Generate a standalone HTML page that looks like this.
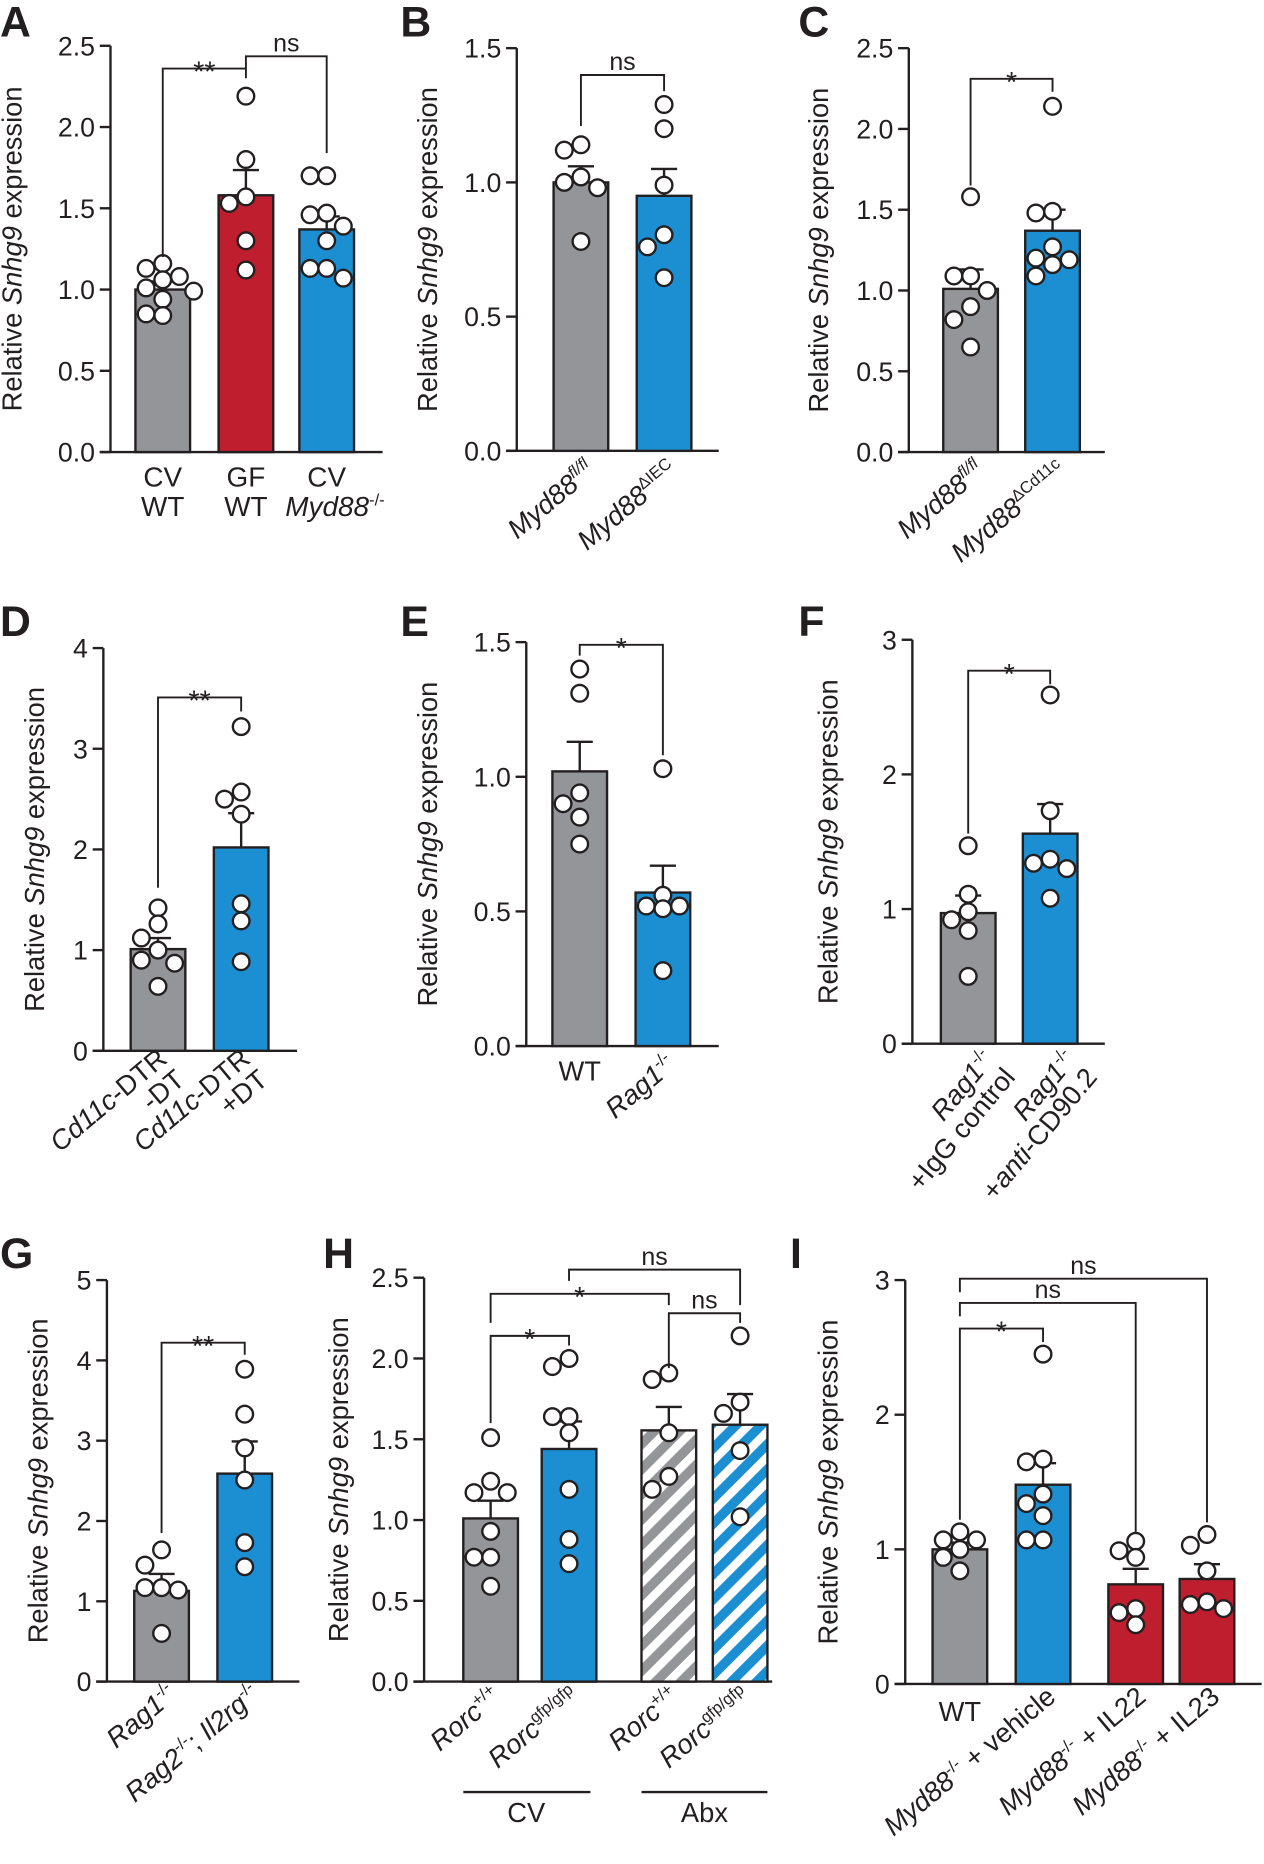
<!DOCTYPE html>
<html><head><meta charset="utf-8"><style>
html,body{margin:0;padding:0;background:#fff;}
svg{display:block;font-family:"Liberation Sans",Arial,sans-serif;}
</style></head><body>
<svg id="fig" width="1264" height="1864" viewBox="0 0 1064 1568" xmlns="http://www.w3.org/2000/svg">
<defs>
<pattern id="hatchGray" patternUnits="userSpaceOnUse" width="15" height="15" patternTransform="rotate(45)">
<rect width="15" height="15" fill="#939598"/><rect x="0" width="7" height="15" fill="#fff"/></pattern>
<pattern id="hatchBlue" patternUnits="userSpaceOnUse" width="15" height="15" patternTransform="rotate(45)">
<rect width="15" height="15" fill="#1b8fd2"/><rect x="0" width="7" height="15" fill="#fff"/></pattern>
</defs>
</svg>
<script>
// ---- data ----
const A_means=[1.0,1.58,1.37];
const A_errs=[1.05,1.735,1.45];
const A_points=[[1.13,1.16,1.06,1.08,1.01,0.99,0.94,0.84,0.85],[2.19,1.80,1.53,1.57,1.30,1.12],[1.70,1.70,1.47,1.46,1.39,1.30,1.13,1.13,1.07]];
const A_sig=[[0,1,2.36,1.2,2.30,'**'],[1,2,2.435,2.36,1.84,'ns']];
const B_means=[1.0,0.95];
const B_errs=[1.06,1.05];
const B_points=[[1.14,1.12,1.02,1.0,0.98,0.78],[1.29,1.20,0.99,0.805,0.76,0.645]];
const B_sig=[[0,1,1.40,1.21,1.34,'ns']];
const C_means=[1.01,1.37];
const C_errs=[1.13,1.50];
const C_points=[[1.58,1.09,1.09,1.0,0.9,0.82,0.65],[2.14,1.48,1.49,1.27,1.2,1.19,1.16,1.09]];
const C_sig=[[0,1,2.31,1.65,2.23,'*']];
const D_means=[1.01,2.02];
const D_errs=[1.12,2.36];
const D_points=[[1.42,1.26,1.12,1.0,0.87,0.9,0.64],[3.22,2.57,2.50,2.35,1.46,1.29,0.885]];
const D_sig=[[0,1,3.51,1.62,3.37,'**']];
const E_means=[1.02,0.57];
const E_errs=[1.13,0.67];
const E_points=[[1.40,1.31,0.94,0.9,0.85,0.75],[1.03,0.56,0.52,0.51,0.52,0.28]];
const E_sig=[[0,1,1.49,1.45,1.08,'*']];
const F_means=[0.97,1.56];
const F_errs=[1.10,1.78];
const F_points=[[1.47,1.11,0.98,0.92,0.84,0.5],[2.59,1.73,1.37,1.34,1.30,1.08]];
const F_sig=[[0,1,2.77,1.56,2.67,'*']];
const G_means=[1.13,2.59];
const G_errs=[1.34,2.99];
const G_points=[[1.64,1.45,1.17,1.14,1.17,0.6],[3.89,3.33,2.91,2.51,1.73,1.43]];
const G_sig=[[0,1,4.22,1.85,4.07,'**']];
const H_means=[1.01,1.44,1.555,1.59];
const H_errs=[1.12,1.61,1.70,1.78];
const H_points=[[1.51,1.24,1.17,1.17,0.93,0.77,0.77,0.59],[2.0,1.95,1.64,1.64,1.54,1.19,0.88,0.73],[1.91,1.87,1.54,1.27,1.19],[2.14,1.73,1.66,1.43,1.02]];
const H_sig=[[0,1,2.14,1.6,2.08,'*'],[0,2,2.40,2.22,2.33,'*'],[1,3,2.55,2.48,2.33,'ns'],[2,3,2.28,1.94,2.22,'ns']];
const I_means=[1.0,1.48,0.74,0.78];
const I_errs=[1.05,1.64,0.855,0.89];
const I_points=[[1.13,1.07,1.07,1.0,0.94,0.84],[2.45,1.67,1.65,1.41,1.34,1.25,1.07,1.07],[1.06,0.99,0.94,0.56,0.53,0.44],[1.11,1.03,0.84,0.61,0.56,0.59]];
const I_sig=[[0,1,2.64,1.22,2.54,'*'],[0,2,2.83,2.73,1.13,'ns'],[0,3,3.01,2.91,1.2,'ns']];

// ---- layout ----
const GRAY='#939598',RED='#be1e2d',BLUE='#1b8fd2',INK='#231f20';
const panels=[
 {id:'a',letter:'A',lx:0,ly:30,ax:93,end:322,top:38,bot:380,max:2.5,step:0.5,dec:1,tx:-75,centers:[137,207,275],fills:[GRAY,RED,BLUE],means:A_means,errs:A_errs,points:A_points,sig:A_sig},
 {id:'b',letter:'B',lx:337,ly:30,ax:435,end:605,top:40,bot:379,max:1.5,step:0.5,dec:1,tx:-67,centers:[489,559],fills:[GRAY,BLUE],means:B_means,errs:B_errs,points:B_points,sig:B_sig},
 {id:'c',letter:'C',lx:672,ly:30,ax:765,end:930,top:40,bot:380,max:2.5,step:0.5,dec:1,tx:-68,centers:[817,886],fills:[GRAY,BLUE],means:C_means,errs:C_errs,points:C_points,sig:C_sig},
 {id:'d',letter:'D',lx:0,ly:535,ax:87,end:250,top:545,bot:884,max:4,step:1,dec:0,tx:-50,centers:[133,203],fills:[GRAY,BLUE],means:D_means,errs:D_errs,points:D_points,sig:D_sig},
 {id:'e',letter:'E',lx:337,ly:535,ax:443,end:605,top:540,bot:880,max:1.5,step:0.5,dec:1,tx:-75,centers:[488,558],fills:[GRAY,BLUE],means:E_means,errs:E_errs,points:E_points,sig:E_sig},
 {id:'f',letter:'F',lx:672,ly:535,ax:768,end:930,top:538,bot:878,max:3,step:1,dec:0,tx:-63,centers:[815,884],fills:[GRAY,BLUE],means:F_means,errs:F_errs,points:F_points,sig:F_sig},
 {id:'g',letter:'G',lx:0,ly:1067,ax:90,end:252,top:1077,bot:1415,max:5,step:1,dec:0,tx:-50,centers:[136,206],fills:[GRAY,BLUE],means:G_means,errs:G_errs,points:G_points,sig:G_sig},
 {id:'h',letter:'H',lx:272,ly:1067,ax:357,end:650,top:1075,bot:1415,max:2.5,step:0.5,dec:1,tx:-64,centers:[413,479,563,623],fills:[GRAY,BLUE,'url(#hatchGray)','url(#hatchBlue)'],means:H_means,errs:H_errs,points:H_points,sig:H_sig},
 {id:'i',letter:'I',lx:665,ly:1067,ax:762,end:1062,top:1077,bot:1417,max:3,step:1,dec:0,tx:-57,centers:[808,878,956,1016],fills:[GRAY,BLUE,RED,RED],means:I_means,errs:I_errs,points:I_points,sig:I_sig}
];
const NS='http://www.w3.org/2000/svg';
const svg=document.getElementById('fig');
function mk(tag,attrs,parent){const e=document.createElementNS(NS,tag);for(const k in attrs)e.setAttribute(k,attrs[k]);(parent||svg).appendChild(e);return e;}
const BW=46,R=7;
panels.forEach(p=>{
 const g=mk('g',{});
 
 
 const y=v=>p.bot-(v/p.max)*(p.bot-p.top);
 const L=mk('text',{x:p.lx,y:p.ly,'font-size':36,'font-weight':'bold',fill:INK},g);L.textContent=p.letter;
 
 
 const ya=mk('line',{x1:p.ax,y1:p.top,x2:p.ax,y2:p.bot,stroke:INK,'stroke-width':2},g);
 
 
 const xa=mk('line',{x1:p.ax-9,y1:p.bot,x2:p.end,y2:p.bot,stroke:INK,'stroke-width':2},g);
 
 
 const nT=Math.round(p.max/p.step);
 for(let i=0;i<=nT;i++){const v=i*p.step;const yy=y(v);
  mk('line',{x1:p.ax-9,y1:yy,x2:p.ax,y2:yy,stroke:INK,'stroke-width':2},g);
  const t=mk('text',{x:p.ax-13,y:yy+8,'font-size':22.5,'text-anchor':'end',fill:INK},g);t.textContent=v.toFixed(p.dec);
  
  }
 const mid=(p.top+p.bot)/2,tx=p.ax+p.tx;
 const yt=mk('text',{x:tx,y:mid,'font-size':23,'text-anchor':'middle',transform:`rotate(-90 ${tx} ${mid})`,fill:INK},g);
 yt.innerHTML='Relative <tspan font-style="italic">Snhg9</tspan> expression';
 
 
 p.means.forEach((m,i)=>{const cx=p.centers[i];
  const b=mk('rect',{x:cx-BW/2,y:y(m),width:BW,height:p.bot-y(m),fill:p.fills[i],stroke:INK,'stroke-width':2},g);
  
  
  const e=mk('path',{d:`M${cx},${y(m)}V${y(p.errs[i])}M${cx-11},${y(p.errs[i])}H${cx+11}`,stroke:INK,'stroke-width':2,fill:'none'},g);
  
  
 });
 p.points.forEach((arr,i)=>{const cx=p.centers[i];const placed=[];
  const order=arr.map((v,k)=>k).sort((a,b)=>arr[b]-arr[a]);
  order.forEach(k=>{const py=y(arr[k]);let off=0;
   for(const o of [0,-14,14,-26,26,-7,7,-20,20]){if(placed.every(q=>Math.hypot(q[0]-(cx+o),q[1]-py)>=13)){off=o;break;}}
   placed.push([cx+off,py]);
   const c=mk('circle',{cx:cx+off,cy:py,r:R,fill:'#fff',stroke:INK,'stroke-width':2},g);
   
   });
 });
 p.sig.forEach(s=>{const x1=p.centers[s[0]],x2=p.centers[s[1]],yb=y(s[2]);
  const br=mk('path',{d:`M${x1},${y(s[3])}V${yb}H${x2}V${y(s[4])}`,stroke:INK,'stroke-width':1.6,fill:'none'},g);
  
  
  const isNs=s[5]==='ns';
  const t=mk('text',{x:(x1+x2)/2,y:yb+(isNs?-4:11),'font-size':isNs?21:24,'text-anchor':'middle',fill:INK},g);t.textContent=s[5];
  
  });
});
</script>
<svg style="position:absolute;left:0;top:0" width="1264" height="1864" viewBox="0 0 1064 1568" font-family="Liberation Sans, Arial, sans-serif" fill="#231f20">
<g font-size="23.5" text-anchor="middle">
<text x="137" y="409">CV</text><text x="137" y="434">WT</text>
<text x="207" y="409">GF</text><text x="207" y="434">WT</text>
<text x="275" y="409">CV</text><text x="282" y="434"><tspan font-style="italic">Myd88</tspan><tspan font-size="14" dy="-9">-/-</tspan></text>
</g>
<g font-size="23" text-anchor="end" font-style="italic">
<text transform="translate(502,398) rotate(-40)">Myd88<tspan font-size="14" dy="-9">fl/fl</tspan></text>
<text transform="translate(572,398) rotate(-40)">Myd88<tspan font-size="14" dy="-9" font-style="normal">ΔIEC</tspan></text>
<text transform="translate(830,398) rotate(-40)">Myd88<tspan font-size="14" dy="-9">fl/fl</tspan></text>
<text transform="translate(899,398) rotate(-40)">Myd88<tspan font-size="14" dy="-9" font-style="normal">ΔCd11c</tspan></text>
</g>
<g font-size="23" text-anchor="end">
<g transform="translate(142,893) rotate(-40)"><text x="0" y="0"><tspan font-style="italic">Cd11c</tspan>-DTR</text><text x="0" y="23">-DT</text></g>
<g transform="translate(212,893) rotate(-40)"><text x="0" y="0"><tspan font-style="italic">Cd11c</tspan>-DTR</text><text x="0" y="23">+DT</text></g>
<text x="488" y="909" text-anchor="middle">WT</text>
<text transform="translate(570,898) rotate(-40)"><tspan font-style="italic">Rag1</tspan><tspan font-size="14" dy="-9">-/-</tspan></text>
<g transform="translate(838,892) rotate(-50)"><text x="0" y="0"><tspan font-style="italic">Rag1</tspan><tspan font-size="14" dy="-9">-/-</tspan></text><text x="0" y="23">+IgG control</text></g>
<g transform="translate(907,892) rotate(-50)"><text x="0" y="0"><tspan font-style="italic">Rag1</tspan><tspan font-size="14" dy="-9">-/-</tspan></text><text x="0" y="23">+<tspan font-style="italic">anti</tspan>-CD90.2</text></g>
<text transform="translate(150,1428) rotate(-40)"><tspan font-style="italic">Rag1</tspan><tspan font-size="14" dy="-9">-/-</tspan></text>
<text transform="translate(220,1428) rotate(-40)"><tspan font-style="italic">Rag2</tspan><tspan font-size="14" dy="-9">-/-</tspan><tspan dy="9">; </tspan><tspan font-style="italic">Il2rg</tspan><tspan font-size="14" dy="-9">-/-</tspan></text>
<text transform="translate(423,1430) rotate(-40)"><tspan font-style="italic">Rorc</tspan><tspan font-size="14" dy="-9">+/+</tspan></text>
<text transform="translate(489,1430) rotate(-40)"><tspan font-style="italic">Rorc</tspan><tspan font-size="14" dy="-9">gfp/gfp</tspan></text>
<text transform="translate(573,1430) rotate(-40)"><tspan font-style="italic">Rorc</tspan><tspan font-size="14" dy="-9">+/+</tspan></text>
<text transform="translate(633,1430) rotate(-40)"><tspan font-style="italic">Rorc</tspan><tspan font-size="14" dy="-9">gfp/gfp</tspan></text>
<line x1="390" y1="1508" x2="497" y2="1508" stroke="#231f20" stroke-width="2"/>
<line x1="540" y1="1508" x2="646" y2="1508" stroke="#231f20" stroke-width="2"/>
<text x="443" y="1533" text-anchor="middle">CV</text>
<text x="593" y="1533" text-anchor="middle">Abx</text>
<text x="808" y="1448" text-anchor="middle">WT</text>
<text transform="translate(890,1430) rotate(-40)"><tspan font-style="italic">Myd88</tspan><tspan font-size="14" dy="-9">-/-</tspan><tspan dy="9"> + vehicle</tspan></text>
<text transform="translate(966,1430) rotate(-40)"><tspan font-style="italic">Myd88</tspan><tspan font-size="14" dy="-9">-/-</tspan><tspan dy="9"> + IL22</tspan></text>
<text transform="translate(1028,1430) rotate(-40)"><tspan font-style="italic">Myd88</tspan><tspan font-size="14" dy="-9">-/-</tspan><tspan dy="9"> + IL23</tspan></text>
</g>
</svg>
</body></html>
